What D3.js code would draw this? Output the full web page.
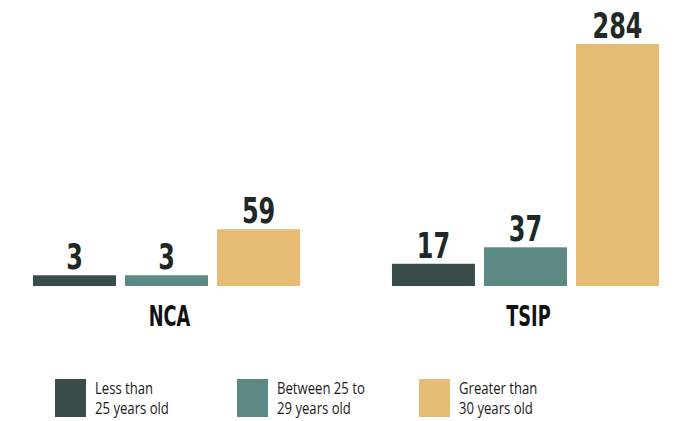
<!DOCTYPE html>
<html>
<head>
<meta charset="utf-8">
<script src="https://cdn.jsdelivr.net/npm/d3@7"></script>
<style>
  body { margin: 0; background: #fff; }
</style>
</head>
<body>
<div id="chart"></div>
<script>
const groups = ["NCA", "TSIP"];
const series = ["Less than 25 years old", "Between 25 to 29 years old", "Greater than 30 years old"];
const legendLines = [["Less than", "25 years old"], ["Between 25 to", "29 years old"], ["Greater than", "30 years old"]];
const ncaValues = [3, 3, 59];
const tsipValues = [17, 37, 284];
const colors = ["#384d49", "#5c8984", "#e6bb74"];

const width = 683, height = 421;
const baseline = 286;
const condensed = "'DejaVu Sans Condensed', 'DejaVu Sans', sans-serif";

const svg = d3.select("#chart").append("svg")
    .attr("width", width)
    .attr("height", height);

// group and bar scales
const x0 = d3.scaleBand()
    .domain(groups)
    .range([33, 659])
    .paddingInner(0.256)
    .paddingOuter(0);

const x1 = d3.scaleBand()
    .domain(series)
    .range([0, x0.bandwidth()])
    .paddingInner(0.098);

// bars in the original keep a small visible stub for tiny values
const y = d3.scaleLinear()
    .domain([-10, 284])
    .range([baseline, 44]);

const color = d3.scaleOrdinal().domain(series).range(colors);

const rows = groups.map((g, i) => ({
    group: g,
    values: (i === 0 ? ncaValues : tsipValues).map((v, j) => ({key: series[j], value: v}))
}));

const g = svg.selectAll(".group")
    .data(rows)
    .join("g")
    .attr("class", "group")
    .attr("transform", d => "translate(" + x0(d.group) + ",0)");

g.selectAll("rect")
    .data(d => d.values)
    .join("rect")
    .attr("x", d => x1(d.key))
    .attr("y", d => y(d.value))
    .attr("width", x1.bandwidth())
    .attr("height", d => baseline - y(d.value))
    .attr("fill", d => color(d.key));

// value labels, squeezed to look like a condensed display face
g.selectAll(".val")
    .data(d => d.values)
    .join("text")
    .attr("class", "val")
    .attr("transform", d => "translate(" + (x1(d.key) + x1.bandwidth() / 2) + "," + (y(d.value) - 6) + ") scale(0.74,1)")
    .attr("text-anchor", "middle")
    .attr("font-family", condensed)
    .attr("font-weight", "bold")
    .attr("font-size", 36)
    .attr("fill", "#1e2926")
    .text(d => d.value);

// category labels
g.append("text")
    .attr("transform", "translate(" + (x0.bandwidth() / 2 + 3) + ",326) scale(0.68,1)")
    .attr("text-anchor", "middle")
    .attr("font-family", condensed)
    .attr("font-weight", "bold")
    .attr("font-size", 29)
    .attr("fill", "#111")
    .text(d => d.group);

// legend
const legendX = d3.scalePoint()
    .domain(series)
    .range([55, 419]);

const lg = svg.selectAll(".legend")
    .data(series)
    .join("g")
    .attr("class", "legend")
    .attr("transform", d => "translate(" + legendX(d) + ",379)");

lg.append("rect")
    .attr("width", 31)
    .attr("height", 38)
    .attr("fill", d => color(d));

lg.each(function(d, i) {
    const t = d3.select(this);
    legendLines[i].forEach((line, k) => {
        t.append("text")
            .attr("transform", "translate(40," + (15 + k * 20) + ") scale(0.82,1)")
            .attr("font-family", "'Open Sans', 'Noto Sans', sans-serif")
            .attr("font-size", 16)
            .attr("fill", "#1a1a1a")
            .text(line);
    });
});
</script>
</body>
</html>
